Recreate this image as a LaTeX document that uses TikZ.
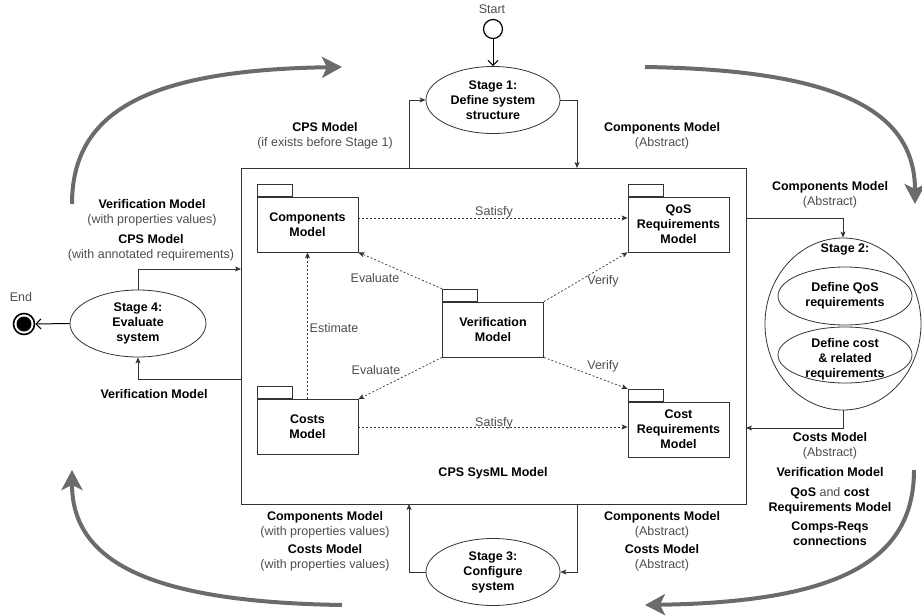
\documentclass[tikz,border=0pt]{standalone}
\usepackage{fontspec}
\setmainfont{Liberation Sans}
\usetikzlibrary{arrows.meta,shapes.geometric}
\definecolor{lgray}{HTML}{4D4D4D}
\definecolor{bigarrow}{HTML}{6B6B6B}
\definecolor{lineclr}{HTML}{333333}
\begin{document}
\begin{tikzpicture}[x=1pt,y=-1pt,
  every node/.style={font=\fontsize{12.5}{15}\selectfont, inner sep=0pt, align=center},
  stagebox/.style={ellipse, draw=lineclr, line width=0.8pt, font=\fontsize{12.5}{15}\selectfont\bfseries},
  pkg/.style={draw=lineclr, line width=0.8pt, minimum width=101pt, minimum height=55pt, font=\fontsize{12.5}{15}\selectfont\bfseries},
  tabbox/.style={draw=lineclr, line width=0.8pt, minimum width=35pt, minimum height=12pt, anchor=south west},
  flow/.style={draw=lineclr, line width=0.8pt, -{Stealth[length=6pt,width=5pt,inset=1.5pt]}},
  dep/.style={draw=lineclr, line width=0.7pt, dash pattern=on 2pt off 2pt, -{Stealth[length=6pt,width=5pt,inset=1.5pt]}},
  openarr/.style={draw=black, line width=1pt, -{Straight Barb[length=5pt,width=10pt]}},
  big/.style={draw=bigarrow, line width=4pt, -{Stealth[length=20pt,width=21pt,inset=5pt]}},
  sub/.style={text=lgray},
  bold/.style={font=\fontsize{12.5}{15}\selectfont\bfseries},
]
\useasboundingbox (0,0) rectangle (922,616);

% big cycle arrows
\draw[big] (72,204) .. controls (72,110) and (150,70) .. (342,67);
\draw[big] (645,67) .. controls (837,70) and (915,110) .. (915,204);
\draw[big] (914,470) .. controls (914,562) and (837,602) .. (645,605);
\draw[big] (342,605) .. controls (150,602) and (72,562) .. (72,470);

% main model box
\node[draw=lineclr, line width=0.8pt, minimum width=505pt, minimum height=336pt] (cps) at (493.5,336) {};
\node[bold] (cpslbl) at (493,473) {CPS SysML Model};

% packages
\node[pkg] (comp) at (307.5,224.5) {Components\\Model};
\node[tabbox] (comptab) at (comp.north west) {};
\node[pkg] (qos) at (678.5,224.5) {QoS\\Requirements\\Model};
\node[tabbox] (qostab) at (qos.north west) {};
\node[pkg] (ver) at (493,329.5) {Verification\\Model};
\node[tabbox] (vertab) at (ver.north west) {};
\node[pkg] (costs) at (307.5,427) {Costs\\Model};
\node[tabbox] (coststab) at (costs.north west) {};
\node[pkg] (costreq) at (678.5,429.5) {Cost\\Requirements\\Model};
\node[tabbox] (costreqtab) at (costreq.north west) {};

% dependencies
\draw[dep] ([yshift=6.5pt]comp.east) -- ([yshift=6.5pt]qos.west);
\node[sub] (sat1) at (494,212) {Satisfy};
\draw[dep] (costs.east) -- (costs.east -| costreq.west);
\node[sub] (sat2) at (494,423) {Satisfy};
\draw[dep] (costs.north) -- (comp.south);
\node[sub] (est) at (334,328) {Estimate};
\draw[dep] (vertab.north west) -- (comp.south east);
\node[sub] (ev1) at (375,278) {Evaluate};
\draw[dep] (ver.north east) -- (qos.south west);
\node[sub] (vf1) at (603,281) {Verify};
\draw[dep] (ver.south west) -- (costs.north east);
\node[sub] (ev2) at (376,370) {Evaluate};
\draw[dep] (ver.south east) -- (costreqtab.north west);
\node[sub] (vf2) at (603,366) {Verify};

% start / end
\node[draw=black, line width=1.2pt, circle, minimum size=19pt] (start) at (493,29) {};
\node[sub] (startlbl) at (492,9) {Start};
\node[draw=black, line width=1.6pt, circle, minimum size=21pt] (end) at (24,324) {};
\node[fill=black, circle, minimum size=15pt] (enddot) at (end) {};
\node[sub] (endlbl) at (21,297) {End};

% stages
\node[stagebox, minimum width=134pt, minimum height=67pt] (s1) at (493,100) {Stage 1:\\Define system\\structure};
\node[stagebox, minimum width=156pt, minimum height=172pt] (s2) at (843,324) {};
\node[bold] (s2lbl) at (845,249) {Stage 2:};
\node[stagebox, minimum width=134pt, minimum height=58pt] (s2a) at (845,296) {Define QoS\\requirements};
\node[stagebox, minimum width=134pt, minimum height=56pt] (s2b) at (845,355) {};
\node[bold] (s2btxt) at (845,359) {Define cost\\\& related\\requirements};
\node[stagebox, minimum width=134pt, minimum height=67pt] (s3) at (493,572) {Stage 3:\\Configure\\system};
\node[stagebox, minimum width=136pt, minimum height=67pt] (s4) at (138,323.5) {Stage 4:\\Evaluate\\system};

% connector anchor points on the model box
\coordinate (c1) at (409,168);
\coordinate (c2) at (577,168);
\coordinate (c3) at (746,218);
\coordinate (c4) at (746,428);
\coordinate (c5) at (577,504);
\coordinate (c6) at (409,504);
\coordinate (c7) at (241,269);
\coordinate (c8) at (241,379);

\draw[openarr] (start) -- (s1);
\draw[flow] (c1) |- (s1.west);
\draw[flow] (s1.east) -| (c2);
\draw[flow] (c3) -| (s2.north);
\draw[flow] (s2.south) |- (c4);
\draw[flow] (c5) |- (s3.east);
\draw[flow] (s3.west) -| (c6);
\draw[flow] (s4.north) |- (c7);
\draw[flow] (c8) -| (s4.south);
\draw[openarr] (s4.west) -- (end.east);

% flow labels
\node (l1) at (325,135.5) {\textbf{CPS Model}\\{\color{lgray}(if exists before Stage 1)}};
\node (l2) at (662,135.5) {\textbf{Components Model}\\{\color{lgray}(Abstract)}};
\node (l3) at (830,194.5) {\textbf{Components Model}\\{\color{lgray}(Abstract)}};
\node (l4) at (152,212.5) {\textbf{Verification Model}\\{\color{lgray}(with properties values)}};
\node (l5) at (151,247.5) {\textbf{CPS Model}\\{\color{lgray}(with annotated requirements)}};
\node[bold] (l6) at (154,394) {Verification Model};
\node (l7) at (325,524.5) {\textbf{Components Model}\\{\color{lgray}(with properties values)}};
\node (l8) at (325,558) {\textbf{Costs Model}\\{\color{lgray}(with properties values)}};
\node (l9) at (662,524.5) {\textbf{Components Model}\\{\color{lgray}(Abstract)}};
\node (l10) at (662,558) {\textbf{Costs Model}\\{\color{lgray}(Abstract)}};
\node (l11) at (830,446) {\textbf{Costs Model}\\{\color{lgray}(Abstract)}};
\node[bold] (l12) at (830,472) {Verification Model};
\node (l13) at (830,500.5) {\textbf{QoS} {\color{lgray}and} \textbf{cost}\\\textbf{Requirements Model}};
\node[bold] (l14) at (830,533.5) {Comps-Reqs\\connections};
\end{tikzpicture}
\end{document}
